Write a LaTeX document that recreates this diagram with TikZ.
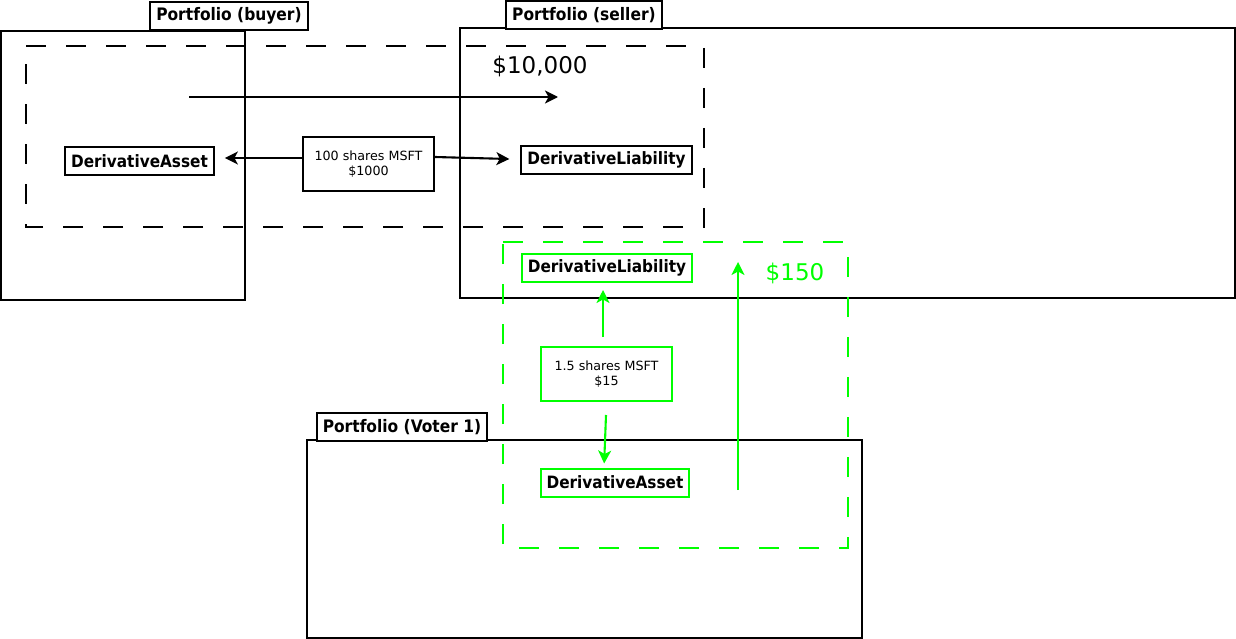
\documentclass[tikz,border=0pt]{standalone}
\usepackage{fontspec}
\setmainfont{DejaVu Sans}
\newfontfamily\lblfont{DejaVu Sans Condensed}
\usetikzlibrary{arrows.meta}
\definecolor{grn}{RGB}{0,255,0}
\tikzset{
  frame/.style={draw=black,line width=2.1pt},
  dashframe/.style={line width=2.1pt,dash pattern=on 20pt off 20pt},
  tab/.style={draw=black,line width=2pt,fill=white,inner xsep=6pt,inner ysep=0pt,minimum height=28pt,font=\fontsize{17.2}{20}\lblfont\bfseries},
  cls/.style={draw,line width=2pt,inner xsep=6pt,inner ysep=0pt,minimum height=28pt,font=\fontsize{17}{20}\lblfont\bfseries},
  msg/.style={draw,line width=2pt,minimum width=131pt,minimum height=54pt,align=center,font=\fontsize{12.7}{15}\selectfont},
  big/.style={font=\fontsize{23}{27}\selectfont},
  arr/.style={line width=2.1pt,-{Stealth[length=13pt,width=13pt,inset=3.5pt]}},
  garr/.style={arr,draw=grn,color=grn},
}
\begin{document}
\begin{tikzpicture}[x=1pt,y=-1pt]
\useasboundingbox (0,0) rectangle (1236,639);
% portfolio frames
\draw[frame] (1,31) rectangle (245,300);
\node[tab] (tb) at (229,16) {Portfolio (buyer)};
\draw[frame] (460,28) rectangle (1235,298);
\node[tab] (ts) at (584,15) {Portfolio (seller)};
\draw[frame] (307,440) rectangle (862,638);
\node[tab] (tv) at (402,427) {Portfolio (Voter 1)};
% dashed groups
\draw[dashframe,draw=black] (26,46) -- (704,46) -- (704,227) -- (26,227) -- cycle;
\draw[dashframe,draw=grn] (503,242) -- (848,242) -- (848,548) -- (503,548) -- cycle;
% black contract
\node[cls] (da1) at (139.5,161) {DerivativeAsset};
\node[cls] (dl1) at (606.5,160) {DerivativeLiability};
\node[msg,fill=white] (m1) at (368.5,164) {100 shares MSFT\\\$1000};
\draw[arr] ([yshift=6pt]m1.west) -- ([xshift=10pt,yshift=3pt]da1.east);
\draw[arr] ([yshift=7pt]m1.east) -- ([xshift=-11pt,yshift=1pt]dl1.west);
\coordinate (p1) at (189,97);
\coordinate (p2) at (558,97);
\draw[arr] (p1) -- (p2);
\node[big] (v1) at (540,66) {\$10,000};
% green contract
\node[cls,draw=grn] (dl2) at (607,268) {DerivativeLiability};
\node[msg,draw=grn] (m2) at (606.5,374) {1.5 shares MSFT\\\$15};
\node[cls,draw=grn] (da2) at (615,482.5) {DerivativeAsset};
\draw[garr,shorten <=9pt,shorten >=7pt] ([xshift=-3.5pt]m2.north) -- ([xshift=-4pt]dl2.south);
\draw[garr,shorten <=13pt,shorten >=4pt] (m2.south) -- ([xshift=-11pt]da2.north);
\coordinate (g1) at (738,490);
\coordinate (g2) at (738,262);
\draw[garr] (g1) -- (g2);
\node[big,text=grn] (v2) at (795,273) {\$150};
\end{tikzpicture}
\end{document}
